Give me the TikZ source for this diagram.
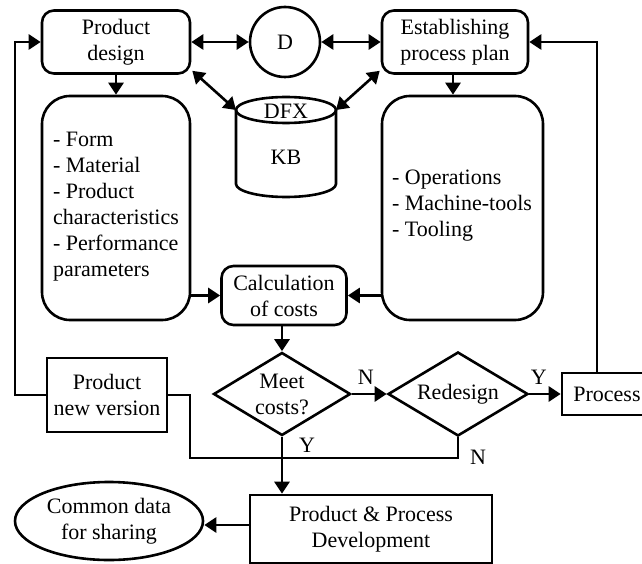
\documentclass[tikz,border=0pt]{standalone}
\usepackage{fontspec}
\setmainfont{Liberation Serif}
\usetikzlibrary{arrows.meta,shapes.geometric}

\begin{document}
\begin{tikzpicture}[x=1pt,y=-1pt,line width=2.6pt,
  font=\fontsize{22}{26}\selectfont,
  every node/.style={inner sep=0pt,align=center},
  rbox/.style={draw,rounded corners=12pt},
  listbox/.style={draw,rounded corners=28pt},
  sbox/.style={draw},
  dia/.style={draw,diamond},
  tip/.style={-{Triangle[length=12pt,width=15pt]}},
  dtip/.style={{Triangle[length=12pt,width=15pt]}-{Triangle[length=12pt,width=15pt]}}]

\clip (0,0) rectangle (642,564);

% top row
\node[rbox,minimum width=148pt,minimum height=63pt] (pd) at (116,42) {Product\\design};
\node[draw,circle,minimum size=70pt] (D) at (285,42) {D};
\node[rbox,minimum width=146pt,minimum height=63pt] (ep) at (455,42) {Establishing\\process plan};

% DFX knowledge base drum
\node[minimum width=100pt,minimum height=100pt] (kb) at (286,147) {};
\draw (236,110) -- (236,184) arc[start angle=180,end angle=360,x radius=50pt,y radius=13pt] -- (336,110);
\draw (286,110) ellipse [x radius=50pt,y radius=13pt];
\node (dfx) at (286,111) {DFX};
\node (kbt) at (286,157) {KB};
\coordinate (kbl) at (236,110);
\coordinate (kbr) at (336,110);

% attribute lists
\node[listbox,minimum width=148pt,minimum height=224pt] (ll) at (116,208) {};
\node[align=left] (llt) at (116,207) {- Form\\- Material\\- Product\\characteristics\\- Performance\\parameters};
\node[listbox,minimum width=161pt,minimum height=224pt] (rl) at (462.5,208) {};
\node[align=left] (rlt) at (462,206) {- Operations\\- Machine-tools\\- Tooling};

% cost evaluation
\node[rbox,minimum width=125pt,minimum height=59pt] (calc) at (284,295.5) {Calculation\\of costs};
\node[dia,minimum width=137pt,minimum height=83pt] (meet) at (282,394) {};
\node (meett) at (meet) {Meet\\costs?};
\node[dia,minimum width=140pt,minimum height=84pt] (red) at (458,394) {};
\node (redt) at (red) {Redesign};
\node[sbox,minimum width=90pt,minimum height=42pt] (proc) at (607,394) {Process};
\node[sbox,minimum width=120pt,minimum height=74pt] (pnv) at (107,395) {Product\\new version};

% outputs
\node[draw,ellipse,minimum width=188pt,minimum height=78pt] (ce) at (109,521) {Common data\\for sharing};
\node[sbox,minimum width=242pt,minimum height=68pt] (ppd) at (371,529) {Product \& Process\\Development};

% links with the design knowledge
\draw[dtip] (pd.east) -- (D.west);
\draw[dtip] (D.east) -- (ep.west);
\draw[dtip] ([xshift=1pt,yshift=4pt]pd.south east) -- (kbl);
\draw[dtip] ([xshift=-1pt,yshift=4pt]ep.south west) -- (kbr);

% flow
\draw[tip] (pd.south) -- (pd.south |- ll.north);
\draw[tip] ([xshift=-2pt]ep.south) -- ([xshift=-2pt]ep.south |- rl.north);
\draw[tip] (ll.east |- calc.west) -- (calc.west);
\draw[tip] (rl.west |- calc.east) -- (calc.east);
\draw[tip] (meet.north |- calc.south) -- (meet.north);
\draw[tip] (meet.east) -- (red.west) node[pos=0.4,above=8pt] (n1) {N};
\draw[tip] (red.east) -- (proc.west) node[pos=0.3,above=8pt] (y1) {Y};
\draw[tip] ([xshift=-10pt]proc.north) |- (ep.east);
\draw[tip] (meet.south) -- (meet.south |- ppd.north);
\node (y2) at (307,445) {Y};

% redesign rejected: back to a new product version
\coordinate (nloop) at (190,458);
\draw (red.south) |- (nloop) |- (pnv.east);
\node (n2) at (478,457) {N};
\coordinate (rail) at (15,200);
\draw[tip] (pnv.west) -| (rail) |- (pd.west);

% sharing
\draw[tip] ([yshift=4pt]ppd.west) -- ([yshift=-4pt]ce.east);

\end{tikzpicture}
\end{document}
